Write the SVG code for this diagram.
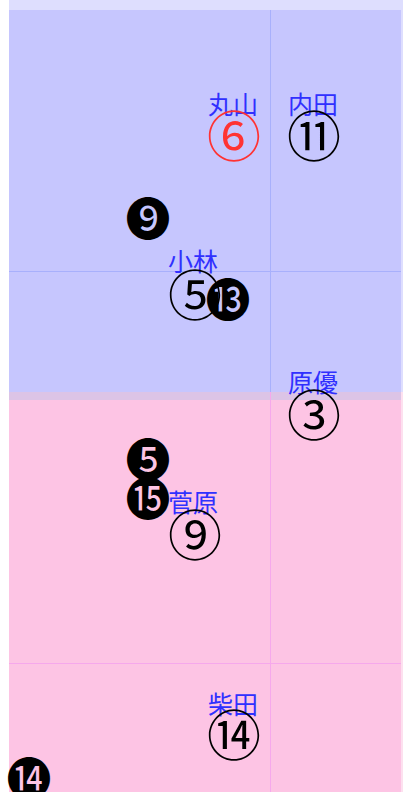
<svg xmlns="http://www.w3.org/2000/svg" width="403" height="792" viewBox="0 0 403 792">
<style>
.lbl{font-family:"Noto Sans CJK JP","Noto Sans",sans-serif;font-size:25px;fill:#3030ff;text-anchor:middle}
.num{font-family:"Noto Sans CJK JP",serif;font-size:54px;fill:#000;text-anchor:middle;dominant-baseline:central}
.neg{font-family:"Noto Sans CJK JP",serif;font-size:45px;fill:#000;text-anchor:middle;dominant-baseline:central}
.gb{stroke:#a8b0fc;stroke-width:1}
.gp{stroke:#f6a8ec;stroke-width:1}
</style>
<rect x="0" y="0" width="403" height="792" fill="#fff"/>
<g id="field">
<rect x="9" y="0" width="394" height="400" fill="#dedefe"/>
<rect x="9" y="10" width="392" height="382" fill="#c6c6fe"/>
<rect x="9" y="392" width="394" height="400" fill="#fde0ef"/>
<rect x="9" y="392" width="392" height="8" fill="#dcc4e6"/>
<rect x="9" y="400" width="392" height="392" fill="#fdc4e4"/>
</g>
<g id="connectors">
<line class="gb" x1="270.5" y1="10" x2="270.5" y2="392"/>
<line class="gb" x1="9" y1="271.5" x2="401" y2="271.5"/>
<line class="gp" x1="270.5" y1="392" x2="270.5" y2="792"/>
<line class="gp" x1="9" y1="663.5" x2="401" y2="663.5"/>
</g>
<g id="maruyama"><text class="lbl" x="233" y="114">丸山</text><text class="num" x="234" y="133" style="fill:#ff3333">⑥</text></g>
<g id="uchida"><text class="lbl" x="313" y="114">内田</text><text class="num" x="314" y="133">⑪</text></g>
<g id="opp9"><text class="neg" x="148" y="216">❾</text></g>
<g id="kobayashi"><text class="lbl" x="193" y="271">小林</text><text class="num" x="195" y="292">⑤</text></g>
<g id="opp13"><text class="neg" x="228" y="297">⓭</text></g>
<g id="harayu"><text class="lbl" x="313" y="392">原優</text><text class="num" x="314" y="412">③</text></g>
<g id="opp5"><text class="neg" x="148" y="457">❺</text></g>
<g id="opp15"><text class="neg" x="148" y="496">⓯</text></g>
<g id="sugawara"><text class="lbl" x="193" y="512">菅原</text><text class="num" x="195" y="532">⑨</text></g>
<g id="shibata"><text class="lbl" x="233" y="714">柴田</text><text class="num" x="234" y="732">⑭</text></g>
<g id="opp14"><text class="neg" x="29" y="776">⓮</text></g>
</svg>
